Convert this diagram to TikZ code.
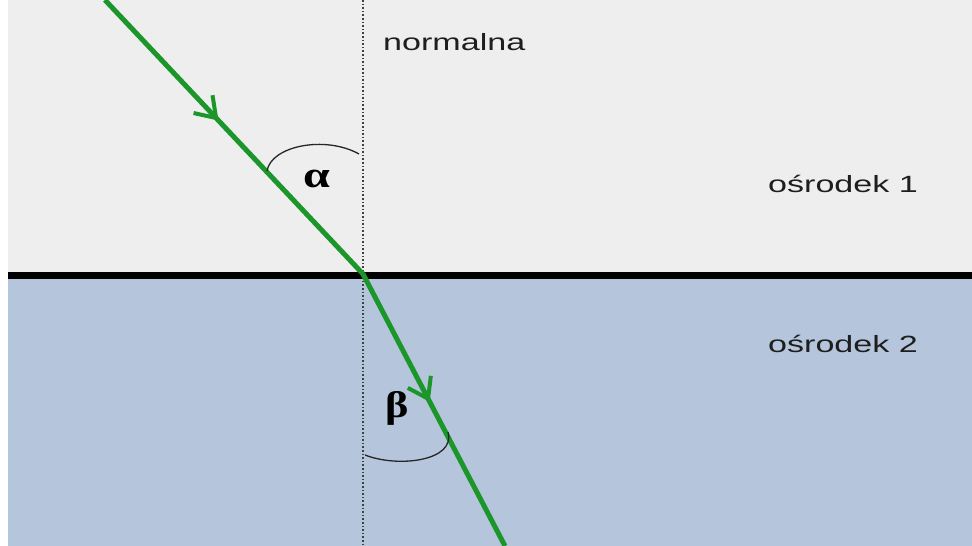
\documentclass[tikz,border=0pt]{standalone}
\usepackage{fontspec}
\usetikzlibrary{arrows.meta,decorations.markings}
\newfontfamily\labfont{Liberation Sans}
\newfontfamily\grkfont{Liberation Serif}
\definecolor{topbg}{HTML}{EEEEEE}
\definecolor{botbg}{HTML}{B5C6DC}
\definecolor{raygreen}{RGB}{28,150,42}
\definecolor{txtgray}{HTML}{1E1E1E}
\begin{document}
\begin{tikzpicture}[x=1pt,y=-1pt,
  ray/.style={draw=raygreen, line width=5pt},
  medlabel/.style={anchor=base west, inner sep=0pt, text=txtgray, font=\labfont\fontsize{23.5}{23.5}\selectfont},
  anglabel/.style={inner sep=0pt, text=black, font=\grkfont\bfseries\fontsize{37}{37}\selectfont},
  anglearc/.style={draw=black!85, line width=1.3pt},
  midarrow/.style={postaction={decorate}, decoration={markings, mark=at position #1 with {\arrow{Straight Barb[length=19pt, width=26pt, line width=4pt]}}}}
]
\useasboundingbox (0,0) rectangle (972,546);
\fill[white] (0,0) rectangle (972,546);
\fill[topbg] (8,0) rectangle (972,275);
\fill[botbg] (8,275) rectangle (972,546);
% normal
\draw[black!75, line width=1.6pt, dotted] (363,0) -- (363,546);
% interface
\draw[black, line width=7pt] (8,275.5) -- (972,275.5);
% rays
\coordinate (src) at (105,0);
\coordinate (hit) at (363,274);
\coordinate (dst) at (505,546);
\draw[ray, midarrow=0.44] (src) -- (hit);
\draw[ray, midarrow=0.47] (hit) -- (dst);
% angle arcs
\draw[anglearc] (267,171) .. controls (271,146) and (325,135) .. (359,154);
\draw[anglearc] (365,455) .. controls (398,468) and (456,461) .. (448,432);
% angle labels
\node[anglabel] (alpha) at (317,179) {\scalebox{1.3}[1]{α}};
\node[anglabel] (beta) at (397,408) {\scalebox{1.2}[1]{β}};
% text labels
\node[medlabel] (normal) at (383,50) {\scalebox{1.45}[1]{normalna}};
\node[medlabel] (m1) at (768,192) {\scalebox{1.45}[1]{ośrodek 1}};
\node[medlabel] (m2) at (768,352) {\scalebox{1.45}[1]{ośrodek 2}};
\end{tikzpicture}
\end{document}
